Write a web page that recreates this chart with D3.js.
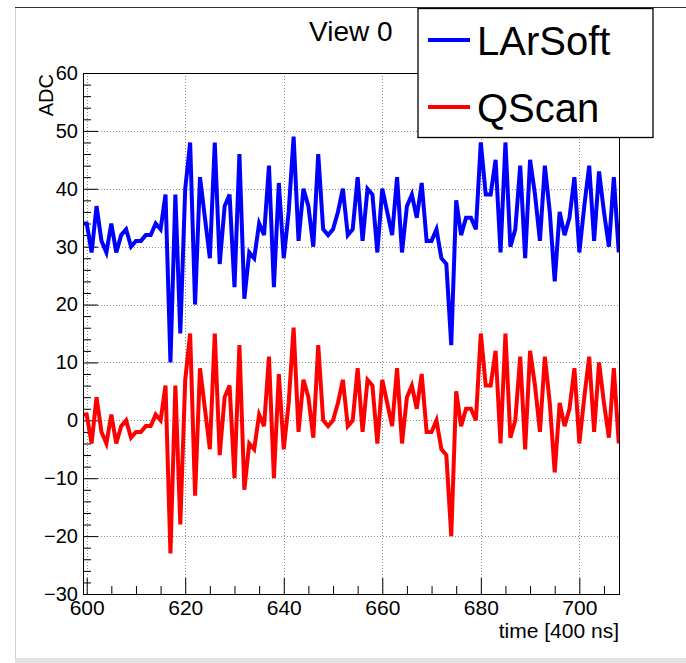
<!DOCTYPE html>
<html>
<head>
<meta charset="utf-8">
<script src="https://cdn.jsdelivr.net/npm/d3@7"></script>
<style>
  body { margin: 0; background: #fff; }
  svg { display: block; }
  text { font-family: "Liberation Sans", Arial, sans-serif; fill: #000; }
</style>
</head>
<body>
<svg id="chart" width="686" height="663"></svg>
<script>
const svg = d3.select("#chart");

// first sample time, one sample per 400 ns tick
const startTime = 599;

const larsoft = [
    34, 34, 29, 37, 31, 29, 34, 29, 32, 33,
    30, 31, 31, 32, 32, 34, 33, 39, 10, 39,
    15, 40, 48, 20, 42, 35, 28, 48, 27, 37,
    39, 23, 46, 21, 29, 28, 34, 32, 44, 23,
    41, 28, 36, 49, 31, 40, 37, 30, 46, 33,
    32, 33, 36, 40, 32, 33, 42, 31, 40, 39,
    29, 40, 36, 32, 42, 29, 37, 39, 35, 41,
    31, 31, 33, 28, 27, 13, 38, 32, 35, 35,
    33, 48, 39, 39, 45, 29, 48, 30, 33, 44,
    28, 45, 39, 31, 44, 36, 24, 36, 32, 35,
    42, 29, 37, 44, 31, 43, 36, 30, 42, 29
];

const qscan = [
    1, 1, -4, 4, -2, -4, 1, -4, -1, 0,
    -3, -2, -2, -1, -1, 1, 0, 6, -23, 6,
    -18, 7, 15, -13, 9, 2, -5, 15, -6, 4,
    6, -10, 13, -12, -4, -5, 1, -1, 11, -10,
    8, -5, 3, 16, -2, 7, 4, -3, 13, 0,
    -1, 0, 3, 7, -1, 0, 9, -2, 7, 6,
    -4, 7, 3, -1, 9, -4, 4, 6, 2, 8,
    -2, -2, 0, -5, -6, -20, 5, -1, 2, 2,
    0, 15, 6, 6, 12, -4, 15, -3, 0, 11,
    -5, 12, 6, -2, 11, 3, -9, 3, -1, 2,
    9, -4, 4, 11, -2, 10, 3, -3, 9, -4
];

const xMajor = [600, 620, 640, 660, 680, 700];
const xMinor = [605, 610, 615, 625, 630, 635, 645, 650, 655, 665, 670, 675, 685, 690, 695, 705];
const yMajor = [-30, -20, -10, 0, 10, 20, 30, 40, 50, 60];
const yMinor = [-28, -26, -24, -22, -18, -16, -14, -12, -8, -6, -4, -2,
    2, 4, 6, 8, 12, 14, 16, 18, 22, 24, 26, 28, 32, 34, 36, 38, 42, 44, 46, 48, 52, 54, 56, 58];

const seriesNames = ["LArSoft", "QScan"];
const seriesColors = ["#0000ff", "#ff0000"];

const frame = { left: 83, right: 619, top: 73, bottom: 594 };

const x = d3.scaleLinear().domain([599.25, 708.05]).range([frame.left, frame.right]);
const y = d3.scaleLinear().domain([-30, 60]).range([frame.bottom, frame.top]);

// canvas window edges
svg.append("rect").attr("x", 15).attr("y", 658).attr("width", 671).attr("height", 5).attr("fill", "#e2e2e2");
svg.append("line").attr("x1", 15.5).attr("x2", 15.5).attr("y1", 8).attr("y2", 658)
    .attr("stroke", "#d0d0d0").attr("stroke-width", 1);
svg.append("line").attr("x1", 15).attr("x2", 686).attr("y1", 7.5).attr("y2", 7.5)
    .attr("stroke", "#333").attr("stroke-width", 1);

// grid
const grid = svg.append("g").attr("stroke", "#8a8a8a").attr("stroke-width", 1).attr("stroke-dasharray", "1,2");
grid.selectAll(".gx").data(xMajor).enter().append("line")
    .attr("x1", d => Math.round(x(d)) + 0.5).attr("x2", d => Math.round(x(d)) + 0.5)
    .attr("y1", frame.top).attr("y2", frame.bottom);
grid.selectAll(".gy").data(yMajor.filter(d => d > -30 && d < 60)).enter().append("line")
    .attr("y1", d => Math.round(y(d)) + 0.5).attr("y2", d => Math.round(y(d)) + 0.5)
    .attr("x1", frame.left).attr("x2", frame.right);

// axes with inside ticks
const xAxis = svg.append("g").attr("transform", `translate(0,${frame.bottom})`)
    .call(d3.axisBottom(x).tickValues(xMajor).tickSizeInner(-16).tickSizeOuter(0).tickPadding(6));
svg.append("g").attr("transform", `translate(0,${frame.bottom})`)
    .call(d3.axisBottom(x).tickValues(xMinor).tickSizeInner(-8).tickSizeOuter(0).tickFormat(""));
const yAxis = svg.append("g").attr("transform", `translate(${frame.left},0)`)
    .call(d3.axisLeft(y).tickValues(yMajor).tickSizeInner(-15).tickSizeOuter(0).tickPadding(5)
        .tickFormat(d => d < 0 ? "\u2212" + Math.abs(d) : d));
svg.append("g").attr("transform", `translate(${frame.left},0)`)
    .call(d3.axisLeft(y).tickValues(yMinor).tickSizeInner(-8).tickSizeOuter(0).tickFormat(""));

svg.selectAll(".domain").remove();
svg.selectAll(".tick line").attr("stroke", "#000").attr("stroke-width", 1);
xAxis.selectAll("text").attr("font-size", 21).attr("font-family", null).attr("fill", "#000");
yAxis.selectAll("text").attr("font-size", 20).attr("font-family", null).attr("fill", "#000");

// axis titles
svg.append("text")
    .attr("x", frame.right).attr("y", 638)
    .attr("text-anchor", "end").attr("font-size", 21)
    .text("time [400 ns]");
svg.append("text")
    .attr("transform", `translate(53,${frame.top + 1}) rotate(-90)`)
    .attr("text-anchor", "end").attr("font-size", 20)
    .text("ADC");

// graphs
svg.append("clipPath").attr("id", "clip")
    .append("rect").attr("x", frame.left).attr("y", frame.top)
    .attr("width", frame.right - frame.left).attr("height", frame.bottom - frame.top);

const line = d3.line().x((d, i) => x(startTime + i)).y(d => y(d));
[larsoft, qscan].forEach((values, k) => {
    svg.append("path")
        .datum(values)
        .attr("clip-path", "url(#clip)")
        .attr("fill", "none")
        .attr("stroke", seriesColors[k])
        .attr("stroke-width", 4)
        .attr("stroke-linejoin", "miter")
        .attr("d", line);
});

// frame
svg.append("rect")
    .attr("x", frame.left + 0.5).attr("y", frame.top + 0.5)
    .attr("width", frame.right - frame.left).attr("height", frame.bottom - frame.top)
    .attr("fill", "none").attr("stroke", "#000").attr("stroke-width", 1);

// title
svg.append("text").attr("x", 309).attr("y", 41).attr("font-size", 28).text("View 0");

// legend
const legend = svg.append("g");
legend.append("rect")
    .attr("x", 418).attr("y", 8.5).attr("width", 235).attr("height", 129)
    .attr("fill", "#fff").attr("stroke", "#000").attr("stroke-width", 1.3);
const entryY = [40, 107];
seriesNames.forEach((name, k) => {
    legend.append("line")
        .attr("x1", 428).attr("x2", 470)
        .attr("y1", entryY[k]).attr("y2", entryY[k])
        .attr("stroke", seriesColors[k]).attr("stroke-width", 4);
    legend.append("text")
        .attr("x", 477).attr("y", entryY[k] + 15)
        .attr("font-size", 40)
        .text(name);
});
</script>
</body>
</html>
